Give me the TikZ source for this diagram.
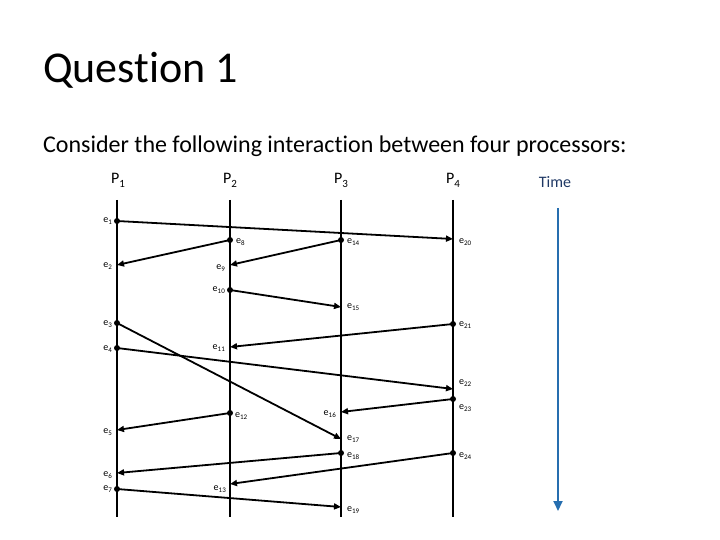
\documentclass[tikz,border=0pt]{standalone}
\usepackage{fontspec}
\setmainfont{Carlito}[Ligatures=NoCommon]
\usetikzlibrary{arrows.meta}
\definecolor{timetext}{RGB}{31,56,100}
\definecolor{timearrow}{RGB}{38,110,175}
\newcommand\evl[1]{e\raisebox{-0.4ex}{\fontsize{7}{7}\selectfont #1}}
\newcommand\prc[1]{P\raisebox{-0.45ex}{\fontsize{11}{11}\selectfont #1}}
\tikzset{
  lifeline/.style={line width=2pt},
  msg/.style={line width=1.8pt,-{Triangle[length=7pt,width=6pt]}},
  evdot/.style={circle,fill=black,inner sep=0pt,minimum size=6pt},
  evlabR/.style={anchor=west,font=\fontsize{10}{10}\selectfont,inner sep=1pt},
  evlabL/.style={anchor=east,font=\fontsize{10}{10}\selectfont,inner sep=1pt},
  plabel/.style={font=\fontsize{16}{16}\selectfont,anchor=base},
}
\begin{document}
\begin{tikzpicture}[x=1pt,y=-1pt]
\useasboundingbox (0,0) rectangle (720,540);
% titles
\node[anchor=base west,inner sep=0pt,font=\fontsize{44}{44}\selectfont] (title) at (43,83) {Question 1};
\node[anchor=base west,inner sep=0pt,font=\fontsize{24}{24}\selectfont] (sub) at (43,153) {Consider the following interaction between four processors:};
% process labels
\node[plabel] (P1) at (118,184) {\prc{1}};
\node[plabel] (P2) at (230,184) {\prc{2}};
\node[plabel] (P3) at (341,184) {\prc{3}};
\node[plabel] (P4) at (453,184) {\prc{4}};
\node[plabel,text=timetext] (time) at (555,188) {Time};
% lifelines
\foreach \i/\x in {1/117,2/230,3/341,4/453}{
  \coordinate (t\i) at (\x,200);
  \coordinate (b\i) at (\x,517);
  \draw[lifeline] (t\i) -- (b\i);
}
% time arrow
\coordinate (ts) at (558,208);
\coordinate (te) at (558,511);
\draw[line width=2pt,timearrow,-{Triangle[length=10pt,width=9pt]}] (ts) -- (te);
% events P1
\coordinate (e1) at (117,221);
\coordinate (e2) at (117,265);
\coordinate (e3) at (117,323);
\coordinate (e4) at (117,348);
\coordinate (e5) at (117,430);
\coordinate (e6) at (117,473);
\coordinate (e7) at (117,489);
% events P2
\coordinate (e8) at (230,240);
\coordinate (e9) at (230,265);
\coordinate (e10) at (230,290);
\coordinate (e11) at (230,347);
\coordinate (e12) at (230,413);
\coordinate (e13) at (230,484);
% events P3
\coordinate (e14) at (341,240);
\coordinate (e15) at (341,307);
\coordinate (e16) at (341,412);
\coordinate (e17) at (341,439);
\coordinate (e18) at (341,453);
\coordinate (e19) at (341,507);
% events P4
\coordinate (e20) at (453,239);
\coordinate (e21) at (453,324);
\coordinate (e22) at (453,389);
\coordinate (e23) at (453,399);
\coordinate (e24) at (453,453);
% messages
\draw[msg] (e1) -- (e20);
\draw[msg] (e8) -- (e2);
\draw[msg] (e14) -- (e9);
\draw[msg] (e10) -- (e15);
\draw[msg] (e21) -- (e11);
\draw[msg] (e3) -- (e17);
\draw[msg] (e4) -- (e22);
\draw[msg] (e12) -- (e5);
\draw[msg] (e23) -- (e16);
\draw[msg] (e18) -- (e6);
\draw[msg] (e24) -- (e13);
\draw[msg] (e7) -- (e19);
% send dots
\foreach \e in {e1,e8,e14,e10,e21,e3,e4,e12,e23,e18,e24,e7}{
  \node[evdot] at (\e) {};
}
% labels
\node[evlabL] (l1) at (113,221) {\evl{1}};
\node[evlabL] (l2) at (113,266) {\evl{2}};
\node[evlabL] (l3) at (113,324) {\evl{3}};
\node[evlabL] (l4) at (113,349) {\evl{4}};
\node[evlabL] (l5) at (113,432) {\evl{5}};
\node[evlabL] (l6) at (113,475) {\evl{6}};
\node[evlabL] (l7) at (113,489) {\evl{7}};
\node[evlabR] (l8) at (235,242) {\evl{8}};
\node[evlabL] (l9) at (226,268) {\evl{9}};
\node[evlabL] (l10) at (226,290) {\evl{10}};
\node[evlabL] (l11) at (226,348) {\evl{11}};
\node[evlabR] (l12) at (234,416) {\evl{12}};
\node[evlabL] (l13) at (227,489) {\evl{13}};
\node[evlabR] (l14) at (346,242) {\evl{14}};
\node[evlabR] (l15) at (346,307) {\evl{15}};
\node[evlabL] (l16) at (337,414) {\evl{16}};
\node[evlabR] (l17) at (346,439) {\evl{17}};
\node[evlabR] (l18) at (346,456) {\evl{18}};
\node[evlabR] (l19) at (346,510) {\evl{19}};
\node[evlabR] (l20) at (458,242) {\evl{20}};
\node[evlabR] (l21) at (458,325) {\evl{21}};
\node[evlabR] (l22) at (458,383) {\evl{22}};
\node[evlabR] (l23) at (458,408) {\evl{23}};
\node[evlabR] (l24) at (458,456) {\evl{24}};
\end{tikzpicture}
\end{document}
